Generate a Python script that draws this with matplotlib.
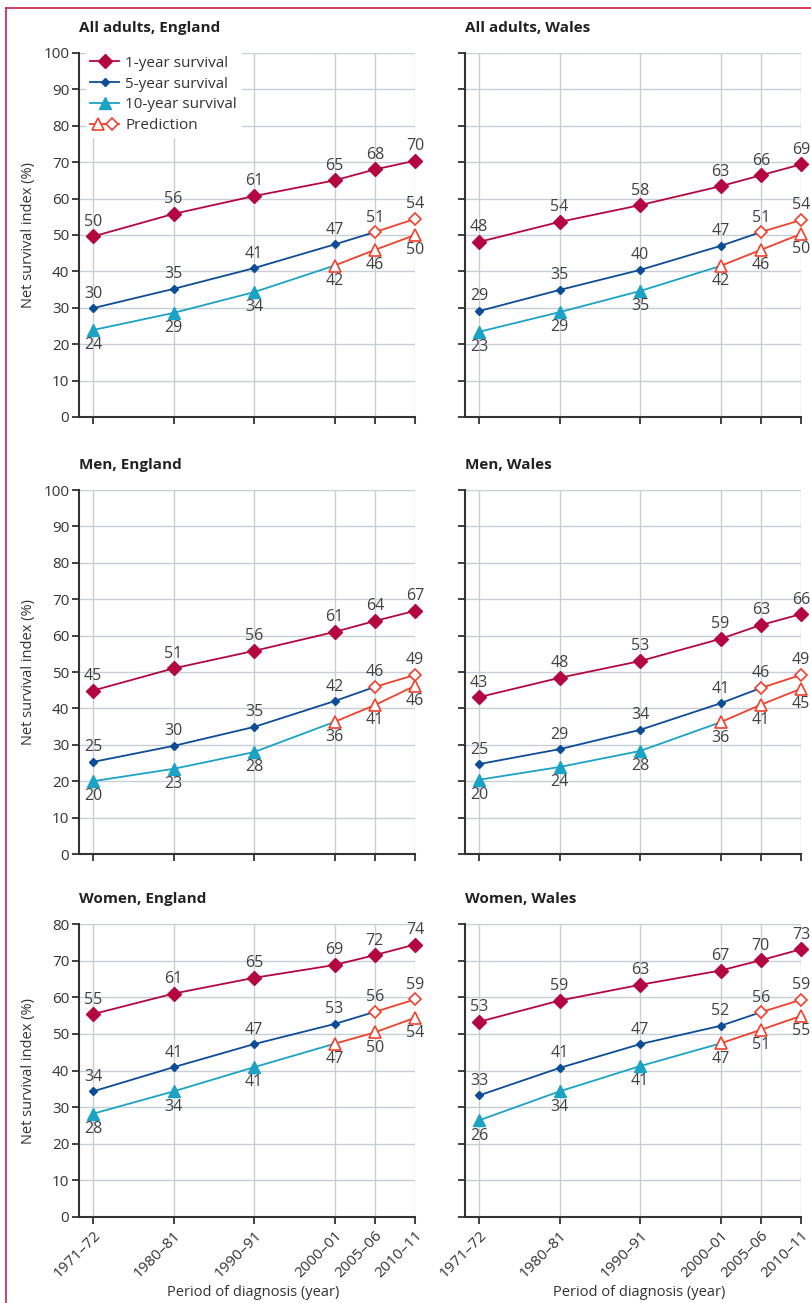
import matplotlib.pyplot as plt
from matplotlib.lines import Line2D
from matplotlib.legend_handler import HandlerTuple

plt.rcParams['font.family'] = ['Open Sans', 'DejaVu Sans']

W, H = 812, 1303

# categories
periods = ['1971–72', '1980–81', '1990–91', '2000–01', '2005–06', '2010–11']
x_pos = [0, 1, 2, 3, 3.5, 4]

# net survival index (%), by panel and series
eng_all_1y = [49.6, 55.8, 60.7, 65.0, 68.0, 70.4]
eng_all_5y = [29.9, 35.2, 40.9, 47.4, 50.8, 54.4]
eng_all_10y = [23.9, 28.6, 34.3, 41.6, 45.9, 50.0]
wal_all_1y = [48.1, 53.6, 58.2, 63.4, 66.4, 69.4]
wal_all_5y = [29.1, 34.9, 40.4, 47.0, 50.8, 54.1]
wal_all_10y = [23.4, 28.8, 34.6, 41.5, 45.9, 50.3]
eng_men_1y = [44.9, 51.0, 55.8, 61.0, 64.0, 66.8]
eng_men_5y = [25.3, 29.7, 34.9, 42.0, 45.9, 49.2]
eng_men_10y = [20.0, 23.4, 28.0, 36.3, 40.9, 46.2]
wal_men_1y = [43.1, 48.4, 53.0, 59.1, 62.9, 65.9]
wal_men_5y = [24.7, 28.8, 34.1, 41.4, 45.6, 49.2]
wal_men_10y = [20.4, 23.9, 28.3, 36.2, 41.0, 45.4]
eng_wom_1y = [55.4, 61.0, 65.3, 68.8, 71.5, 74.4]
eng_wom_5y = [34.3, 40.9, 47.2, 52.7, 56.0, 59.4]
eng_wom_10y = [28.2, 34.3, 40.9, 47.3, 50.4, 54.4]
wal_wom_1y = [53.3, 59.1, 63.4, 67.3, 70.1, 73.1]
wal_wom_5y = [33.2, 40.7, 47.2, 52.2, 55.9, 59.3]
wal_wom_10y = [26.4, 34.3, 41.2, 47.4, 51.1, 54.9]

# number of observed (non-predicted) points per series
n_obs_5y = 4
n_obs_10y = 3

titles = ['All adults, England', 'All adults, Wales',
          'Men, England', 'Men, Wales',
          'Women, England', 'Women, Wales']
panels = [
    (eng_all_1y, eng_all_5y, eng_all_10y), (wal_all_1y, wal_all_5y, wal_all_10y),
    (eng_men_1y, eng_men_5y, eng_men_10y), (wal_men_1y, wal_men_5y, wal_men_10y),
    (eng_wom_1y, eng_wom_5y, eng_wom_10y), (wal_wom_1y, wal_wom_5y, wal_wom_10y),
]
y_tops = [100, 100, 80]

C1 = '#b5073f'
C5 = '#0d4c96'
C10 = '#1ba3c6'
CPRED = '#f0402e'
GRID = '#c8ced6'
DARK = '#333333'
TEXT = '#404040'
BORDER = '#cc1e4a'

FS = 11
FS_LABEL = 11.5

fig = plt.figure(figsize=(W / 100, H / 100), dpi=100)

# axes boxes in pixels: (left, right), (top of axis, zero line)
col_px = [(79, 415), (465, 801)]
row_px = [(53, 417), (490, 854), (924, 1217)]


def px_box(lr, tb):
    l, r = lr
    t, b = tb
    return [l / W, 1 - b / H, (r - l) / W, (b - t) / H]


def label_points(ax, xs, ys, above):
    off = 10.5 if above else -11
    for x, y in zip(xs, ys):
        ax.annotate(f'{y:.0f}', (x, y), xytext=(0, off), textcoords='offset points',
                    ha='center', va='center', fontsize=FS_LABEL, color=TEXT, zorder=6)


axes = []
for i, (s1, s5, s10) in enumerate(panels):
    r, c = divmod(i, 2)
    ax = fig.add_axes(px_box(col_px[c], row_px[r]))
    axes.append(ax)
    top = y_tops[r]

    # 1-year survival
    ax.plot(x_pos, s1, color=C1, lw=1.3, marker='D', ms=6.8, mec=C1, mfc=C1,
            clip_on=False, zorder=4)
    label_points(ax, x_pos, s1, True)

    # 5-year survival (observed, then prediction)
    k = n_obs_5y
    ax.plot(x_pos[:k + 1], s5[:k + 1], color=C5, lw=1.3, zorder=3, clip_on=False)
    ax.plot(x_pos[:k], s5[:k], ls='none', marker='D', ms=4.5, color=C5,
            zorder=4, clip_on=False)
    ax.plot(x_pos[k:], s5[k:], color=CPRED, lw=1.3, marker='D', ms=6, mfc='white',
            mec=CPRED, mew=1.2, zorder=4, clip_on=False)
    label_points(ax, x_pos, s5, True)

    # 10-year survival (observed, then prediction)
    k = n_obs_10y
    ax.plot(x_pos[:k + 1], s10[:k + 1], color=C10, lw=1.3, zorder=3, clip_on=False)
    ax.plot(x_pos[:k], s10[:k], ls='none', marker='^', ms=8, color=C10,
            zorder=4, clip_on=False)
    ax.plot(x_pos[k:], s10[k:], color=CPRED, lw=1.3, marker='^', ms=9, mfc='white',
            mec=CPRED, mew=1.2, zorder=4, clip_on=False)
    label_points(ax, x_pos, s10, False)

    ax.set_xlim(-0.175, 4)
    ax.set_ylim(0, top)
    ax.set_yticks(range(0, top + 1, 10))
    ax.set_xticks(x_pos)
    ax.grid(True, color=GRID, lw=1)
    ax.set_axisbelow(True)
    for sp in ['top', 'right']:
        ax.spines[sp].set_visible(False)
    for sp in ['left', 'bottom']:
        ax.spines[sp].set_color(DARK)
        ax.spines[sp].set_linewidth(1.5)
    ax.tick_params(direction='out', length=5, width=1.3, color=DARK,
                   labelsize=FS, labelcolor=DARK, pad=2)
    if r == 2:
        ax.set_xticklabels(periods, rotation=45, ha='right', rotation_mode='anchor')
        ax.tick_params(axis='x', pad=3)
    else:
        ax.set_xticklabels([])
    if c == 1:
        ax.set_yticklabels([])
    else:
        ax.set_ylabel('Net survival index (%)', fontsize=10.5, color=DARK)
        ax.yaxis.set_label_coords(-43 / 336, 0.5)

    pos = ax.get_position()
    fig.text(pos.x0, pos.y1 + 25 / H, titles[i], ha='left', va='center',
             fontsize=11, fontweight='bold', color='#222222')
    if r == 2:
        fig.text(pos.x0 + pos.width / 2 + 6 / W, 1 - 1292 / H,
                 'Period of diagnosis (year)', ha='center', va='center',
                 fontsize=10.5, color=DARK)

# legend on the first panel
h1 = Line2D([], [], color=C1, lw=1.3, marker='D', ms=6.8)
h5 = Line2D([], [], color=C5, lw=1.3, marker='D', ms=4.5)
h10 = Line2D([], [], color=C10, lw=1.3, marker='^', ms=8)
hp_tri = Line2D([], [], color=CPRED, lw=1.3, marker='^', ms=9, mfc='white', mew=1.2)
hp_dia = Line2D([], [], color=CPRED, lw=1.3, marker='D', ms=6, mfc='white', mew=1.2)
leg = axes[0].legend([h1, h5, h10, (hp_tri, hp_dia)],
                     ['1-year survival', '5-year survival', '10-year survival', 'Prediction'],
                     handler_map={tuple: HandlerTuple(ndivide=None, pad=0)},
                     loc='upper left', bbox_to_anchor=(0.02, 1.005), fontsize=FS,
                     handlelength=1.9, handletextpad=0.4, labelspacing=0.38,
                     borderpad=0.3, frameon=True, fancybox=False, framealpha=1,
                     facecolor='white', edgecolor='none', borderaxespad=0)
for t in leg.get_texts():
    t.set_color(DARK)
leg.set_zorder(10)

# page border (left and top)
fig.add_artist(Line2D([6 / W, 6 / W], [0, 1 - 8 / H], color=BORDER, lw=1.2))
fig.add_artist(Line2D([6 / W, 1], [1 - 8 / H, 1 - 8 / H], color=BORDER, lw=1.2))

fig.savefig('out.png', dpi=100)
